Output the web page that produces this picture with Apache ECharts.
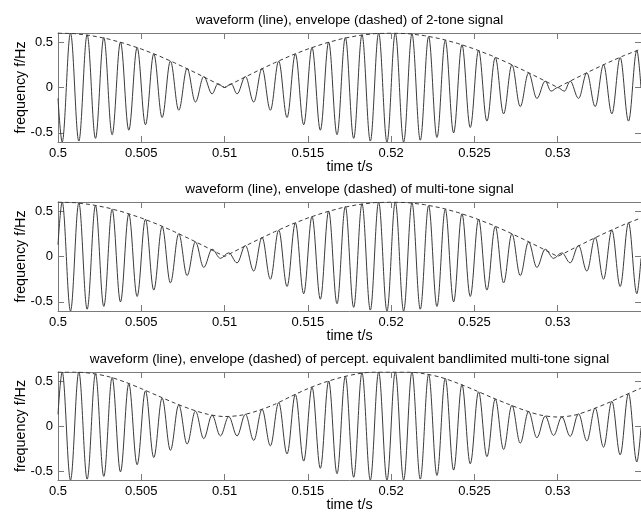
<!DOCTYPE html>
<html>
<head>
<meta charset="utf-8">
<script src="https://cdn.jsdelivr.net/npm/echarts@6/dist/echarts.min.js"></script>
<style>
  html, body { margin: 0; padding: 0; background: #fff; }
  #main { width: 641px; height: 513px; }
</style>
</head>
<body>
<div id="main"></div>
<script>
// tick positions
const xTicks = [0.5, 0.505, 0.51, 0.515, 0.52, 0.525, 0.53];
const yTicks = [-0.5, 0, 0.5];

const titles = [
  'waveform (line), envelope (dashed) of 2-tone signal',
  'waveform (line), envelope (dashed) of multi-tone signal',
  'waveform (line), envelope (dashed) of percept. equivalent bandlimited multi-tone signal'
];

// waveform extrema: [time, value]
const wave2Tone = [
  [0.5, -0.12],
  [0.50025, -0.60], [0.50075, 0.60], [0.50125, -0.59], [0.50175, 0.58], [0.50225, -0.56],
  [0.50275, 0.55], [0.50325, -0.52], [0.50375, 0.50], [0.50425, -0.47], [0.50475, 0.44],
  [0.50525, -0.41], [0.50575, 0.37], [0.50625, -0.33], [0.50675, 0.29], [0.50725, -0.25],
  [0.50775, 0.21], [0.50825, -0.16], [0.50875, 0.12], [0.50925, -0.07], [0.5096, 0.04],
  [0.51, 0.0], [0.5104, 0.04], [0.51075, -0.07], [0.51125, 0.12], [0.51175, -0.16],
  [0.51225, 0.21], [0.51275, -0.25], [0.51325, 0.29], [0.51375, -0.33], [0.51425, 0.37],
  [0.51475, -0.41], [0.51525, 0.44], [0.51575, -0.47], [0.51625, 0.50], [0.51675, -0.52],
  [0.51725, 0.55], [0.51775, -0.56], [0.51825, 0.58], [0.51875, -0.59], [0.51925, 0.60],
  [0.51975, -0.60], [0.52025, 0.60], [0.52075, -0.60], [0.52125, 0.59], [0.52175, -0.58],
  [0.52225, 0.56], [0.52275, -0.55], [0.52325, 0.52], [0.52375, -0.50], [0.52425, 0.47],
  [0.52475, -0.44], [0.52525, 0.41], [0.52575, -0.37], [0.52625, 0.33], [0.52675, -0.29],
  [0.52725, 0.25], [0.52775, -0.21], [0.52825, 0.16], [0.52875, -0.12], [0.52925, 0.07],
  [0.5296, -0.04], [0.53, 0.0], [0.5304, -0.04], [0.53075, 0.07], [0.53125, -0.12],
  [0.53175, 0.16], [0.53225, -0.21], [0.53275, 0.25], [0.53325, -0.29], [0.53375, 0.33],
  [0.53425, -0.37], [0.53475, 0.41], [0.535, 0.0]
];

const waveMulti = [
  [0.5, 0.13],
  [0.50025, 0.60], [0.50075, -0.60], [0.50125, 0.59], [0.50175, -0.58], [0.50225, 0.56],
  [0.50275, -0.55], [0.50325, 0.52], [0.50375, -0.50], [0.50425, 0.47], [0.50475, -0.44],
  [0.50525, 0.41], [0.50575, -0.37], [0.50625, 0.33], [0.50675, -0.29], [0.50725, 0.25],
  [0.50775, -0.21], [0.50825, 0.16], [0.50875, -0.12], [0.50925, 0.08], [0.50975, -0.02],
  [0.51025, 0.04], [0.51075, -0.07], [0.51125, 0.12], [0.51175, -0.16], [0.51225, 0.21],
  [0.51275, -0.25], [0.51325, 0.29], [0.51375, -0.33], [0.51425, 0.37], [0.51475, -0.41],
  [0.51525, 0.44], [0.51575, -0.47], [0.51625, 0.50], [0.51675, -0.52], [0.51725, 0.55],
  [0.51775, -0.56], [0.51825, 0.58], [0.51875, -0.59], [0.51925, 0.60], [0.51975, -0.60],
  [0.52025, 0.60], [0.52075, -0.60], [0.52125, 0.59], [0.52175, -0.58], [0.52225, 0.56],
  [0.52275, -0.55], [0.52325, 0.52], [0.52375, -0.50], [0.52425, 0.47], [0.52475, -0.44],
  [0.52525, 0.41], [0.52575, -0.37], [0.52625, 0.33], [0.52675, -0.29], [0.52725, 0.25],
  [0.52775, -0.21], [0.52825, 0.16], [0.52875, -0.12], [0.52925, 0.08], [0.52975, -0.02],
  [0.53025, 0.04], [0.53075, -0.07], [0.53125, 0.12], [0.53175, -0.16], [0.53225, 0.21],
  [0.53275, -0.25], [0.53325, 0.29], [0.53375, -0.33], [0.53425, 0.37], [0.53475, -0.41],
  [0.535, -0.02]
];

const wavePercept = [
  [0.5, 0.13],
  [0.50025, 0.60], [0.50075, -0.60], [0.50125, 0.60], [0.50175, -0.59], [0.50225, 0.58],
  [0.50275, -0.56], [0.50325, 0.54], [0.50375, -0.51], [0.50425, 0.47], [0.50475, -0.43],
  [0.50525, 0.39], [0.50575, -0.35], [0.50625, 0.31], [0.50675, -0.27], [0.50725, 0.235],
  [0.50775, -0.20], [0.50825, 0.165], [0.50875, -0.14], [0.50925, 0.12], [0.50975, -0.11],
  [0.51025, 0.105], [0.51075, -0.11], [0.51125, 0.13], [0.51175, -0.16], [0.51225, 0.185],
  [0.51275, -0.22], [0.51325, 0.26], [0.51375, -0.31], [0.51425, 0.35], [0.51475, -0.39],
  [0.51525, 0.43], [0.51575, -0.47], [0.51625, 0.50], [0.51675, -0.53], [0.51725, 0.55],
  [0.51775, -0.57], [0.51825, 0.59], [0.51875, -0.60], [0.51925, 0.60], [0.51975, -0.60],
  [0.52025, 0.60], [0.52075, -0.60], [0.52125, 0.60], [0.52175, -0.59], [0.52225, 0.575],
  [0.52275, -0.55], [0.52325, 0.53], [0.52375, -0.49], [0.52425, 0.46], [0.52475, -0.42],
  [0.52525, 0.38], [0.52575, -0.34], [0.52625, 0.30], [0.52675, -0.26], [0.52725, 0.23],
  [0.52775, -0.19], [0.52825, 0.16], [0.52875, -0.13], [0.52925, 0.11], [0.52975, -0.105],
  [0.53025, 0.10], [0.53075, -0.115], [0.53125, 0.135], [0.53175, -0.165], [0.53225, 0.20],
  [0.53275, -0.235], [0.53325, 0.275], [0.53375, -0.32], [0.53425, 0.36], [0.53475, -0.40],
  [0.535, -0.02]
];

// envelope, one reading per millisecond
const envTimes = [
  0.500, 0.501, 0.502, 0.503, 0.504, 0.505, 0.506, 0.507, 0.508, 0.509,
  0.510, 0.511, 0.512, 0.513, 0.514, 0.515, 0.516, 0.517, 0.518, 0.519,
  0.520, 0.521, 0.522, 0.523, 0.524, 0.525, 0.526, 0.527, 0.528, 0.529,
  0.530, 0.531, 0.532, 0.533, 0.534, 0.535
];
const env2Tone = [
  0.600, 0.593, 0.571, 0.535, 0.485, 0.424, 0.353, 0.272, 0.185, 0.094,
  0.000, 0.094, 0.185, 0.272, 0.353, 0.424, 0.485, 0.535, 0.571, 0.593,
  0.600, 0.593, 0.571, 0.535, 0.485, 0.424, 0.353, 0.272, 0.185, 0.094,
  0.000, 0.094, 0.185, 0.272, 0.353, 0.424
];
const envMulti = [
  0.600, 0.593, 0.571, 0.535, 0.485, 0.424, 0.353, 0.272, 0.185, 0.094,
  0.000, 0.094, 0.185, 0.272, 0.353, 0.424, 0.485, 0.535, 0.571, 0.593,
  0.600, 0.593, 0.571, 0.535, 0.485, 0.424, 0.353, 0.272, 0.185, 0.094,
  0.000, 0.094, 0.185, 0.272, 0.353, 0.424
];
const envPercept = [
  0.600, 0.600, 0.585, 0.550, 0.490, 0.415, 0.335, 0.255, 0.185, 0.130,
  0.105, 0.120, 0.170, 0.240, 0.330, 0.415, 0.485, 0.540, 0.580, 0.600,
  0.600, 0.600, 0.580, 0.540, 0.475, 0.400, 0.320, 0.245, 0.175, 0.120,
  0.100, 0.120, 0.180, 0.255, 0.340, 0.420
];

const waves = [wave2Tone, waveMulti, wavePercept];
const envs = [env2Tone, envMulti, envPercept];

const font = "'Liberation Sans', Arial, Helvetica, sans-serif";
const axisColor = '#7a7a7a';
const lineColor = '#3a3a3a';
const gridTops = [33, 202, 372];
const gridH = 109;
const gridLeft = 58;
const gridW = 583;

let grid = [], xAxis = [], yAxis = [], series = [], graphic = [];

for (let i = 0; i < 3; i++) {
  grid.push({ left: gridLeft, top: gridTops[i], width: gridW, height: gridH });

  let axisBase = {
    gridIndex: i,
    axisLine: { show: true, onZero: false, lineStyle: { color: axisColor, width: 1 } },
    splitLine: { show: false }
  };
  // bottom x axis with labels
  xAxis.push(Object.assign({}, axisBase, {
    type: 'value', min: 0.5, max: 0.535, position: 'bottom',
    name: 'time t/s', nameLocation: 'middle', nameGap: 18, nameMoveOverlap: false,
    nameTextStyle: { color: '#000', fontSize: 14.3, fontFamily: font },
    axisTick: { show: true, inside: true, length: 6, customValues: xTicks, lineStyle: { color: axisColor } },
    axisLabel: { show: true, margin: 5, customValues: xTicks, color: '#000', fontSize: 13, fontFamily: font,
      formatter: function (v) { return String(v); } }
  }));
  // top x axis, box edge
  xAxis.push(Object.assign({}, axisBase, {
    type: 'value', min: 0.5, max: 0.535, position: 'top',
    axisTick: { show: true, inside: true, length: 6, customValues: xTicks, lineStyle: { color: axisColor } },
    axisLabel: { show: false }
  }));
  yAxis.push(Object.assign({}, axisBase, {
    type: 'value', min: -0.6, max: 0.6, position: 'left',
    name: 'frequency f/Hz', nameLocation: 'middle', nameGap: 30, nameRotate: 90, nameMoveOverlap: false,
    nameTextStyle: { color: '#000', fontSize: 14.3, fontFamily: font },
    axisTick: { show: true, inside: true, length: 6, customValues: yTicks, lineStyle: { color: axisColor } },
    axisLabel: { show: true, margin: 5, customValues: yTicks, color: '#000', fontSize: 13, fontFamily: font,
      formatter: function (v) { return String(v); } }
  }));
  yAxis.push(Object.assign({}, axisBase, {
    type: 'value', min: -0.6, max: 0.6, position: 'right',
    axisTick: { show: true, inside: true, length: 6, customValues: yTicks, lineStyle: { color: axisColor } },
    axisLabel: { show: false }
  }));

  series.push({
    type: 'line', xAxisIndex: 2 * i, yAxisIndex: 2 * i,
    data: waves[i],
    showSymbol: false, symbol: 'none',
    smooth: 0.36, smoothMonotone: 'x',
    lineStyle: { color: lineColor, width: 1 },
    animation: false, silent: true
  });
  series.push({
    type: 'line', xAxisIndex: 2 * i, yAxisIndex: 2 * i,
    data: envTimes.map(function (t, k) { return [t, envs[i][k]]; }),
    showSymbol: false, symbol: 'none',
    smooth: i === 2 ? 0.3 : false,
    lineStyle: { color: lineColor, width: 1, type: [4, 3] },
    animation: false, silent: true
  });

  graphic.push({
    type: 'text', x: gridLeft + gridW / 2, y: gridTops[i] - 13,
    style: { text: titles[i], fill: '#000', font: '13.5px ' + font, align: 'center', verticalAlign: 'middle' }
  });
}

const chart = echarts.init(document.getElementById('main'));
chart.setOption({
  animation: false,
  backgroundColor: '#fff',
  grid: grid,
  xAxis: xAxis,
  yAxis: yAxis,
  series: series,
  graphic: graphic
});
</script>
</body>
</html>
